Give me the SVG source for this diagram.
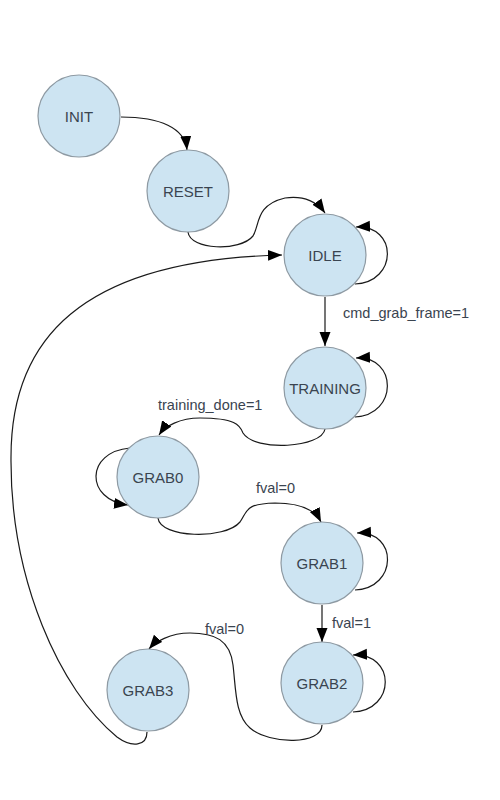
<svg xmlns="http://www.w3.org/2000/svg" width="500" height="800" viewBox="0 0 500 800">
<style>
.node circle{fill:#cde4f2;stroke:#8e9aa3;stroke-width:1.2}
.node text{font-family:"Liberation Sans",Arial,sans-serif;font-size:15px;fill:#3a4450;text-anchor:middle;dominant-baseline:central}
.edges path{fill:none;stroke:#1a1a1a;stroke-width:1.2;marker-end:url(#arr)}
.lbl{font-family:"Liberation Sans",Arial,sans-serif;font-size:14.5px;fill:#3a4450}
</style>
<defs>
<marker id="arr" markerUnits="userSpaceOnUse" markerWidth="16" markerHeight="12" refX="14" refY="5.5" orient="auto">
<path d="M0,0 L14,5.5 L0,11 z" fill="#000"/>
</marker>
</defs>
<rect width="500" height="800" fill="#fff"/>
<g class="edges">
<path d="M121,117 C160,117 185,128 187,150"/>
<path d="M188,232 C190,250 240,252 253,236 C260,225 255,205 285,198 C305,195 318,203 325,213"/>
<path d="M355,284 C398,282 398,225 356,227"/>
<path d="M325,297 L325,346"/>
<path d="M355,417 C398,415 398,356 356,358"/>
<path d="M325,429 C322,448 255,452 243,433 C240,425 235,418 200,418 C180,418 165,426 159,435"/>
<path d="M130,448 C85,452 85,500 128,505"/>
<path d="M158,518 C160,538 225,540 240,522 C248,510 245,504 275,503 C300,503 315,510 321,522"/>
<path d="M355,590 C398,588 398,531 357,533"/>
<path d="M322,605 L322,642"/>
<path d="M353,712 C396,710 396,653 353,655"/>
<path d="M322,725 C322,745 270,745 250,728 C235,715 236,690 233,665 C230,640 215,633 190,633 C170,633 155,642 149,649"/>
<path d="M147,732 C147,746 132,748 117,737 C60,690 10,580 11,457 C11,340 80,260 282,255"/>
</g>
<g id="labels">
<text class="lbl" x="343" y="318">cmd_grab_frame=1</text>
<text class="lbl" x="158" y="410">training_done=1</text>
<text class="lbl" x="256" y="493">fval=0</text>
<text class="lbl" x="332" y="628">fval=1</text>
<text class="lbl" x="205" y="634">fval=0</text>
</g>
<g id="INIT" class="node"><circle cx="79" cy="116" r="41"/><text x="79" y="116">INIT</text></g>
<g id="RESET" class="node"><circle cx="188" cy="191" r="41"/><text x="188" y="191">RESET</text></g>
<g id="IDLE" class="node"><circle cx="325" cy="255" r="41"/><text x="325" y="255">IDLE</text></g>
<g id="TRAINING" class="node"><circle cx="325" cy="388" r="41"/><text x="325" y="388">TRAINING</text></g>
<g id="GRAB0" class="node"><circle cx="158" cy="477" r="41"/><text x="158" y="477">GRAB0</text></g>
<g id="GRAB1" class="node"><circle cx="322" cy="563" r="41"/><text x="322" y="563">GRAB1</text></g>
<g id="GRAB2" class="node"><circle cx="322" cy="683" r="41"/><text x="322" y="683">GRAB2</text></g>
<g id="GRAB3" class="node"><circle cx="148" cy="690" r="41"/><text x="148" y="690">GRAB3</text></g>
</svg>
